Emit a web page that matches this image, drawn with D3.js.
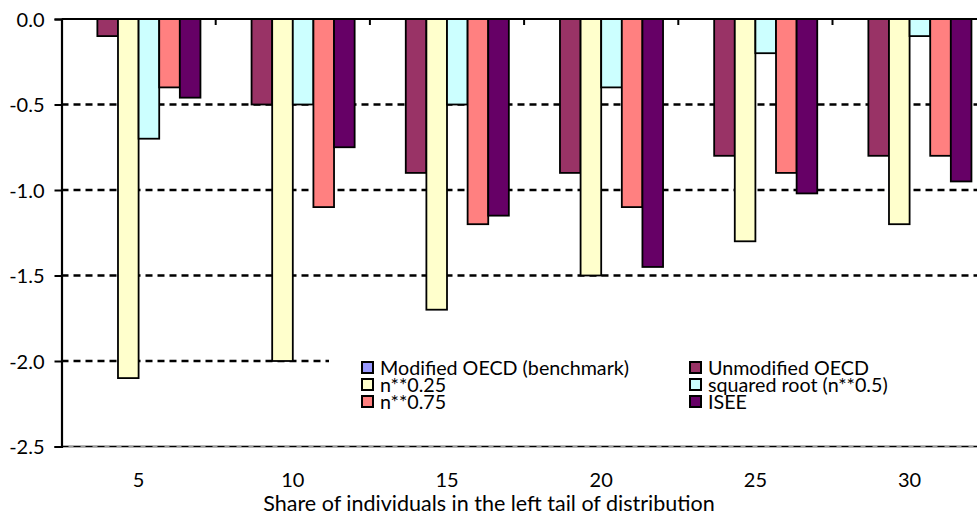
<!DOCTYPE html>
<html>
<head>
<meta charset="utf-8">
<script src="https://cdn.jsdelivr.net/npm/d3@7"></script>
<style>
  html, body { margin: 0; padding: 0; background: #fff; overflow: hidden; }
  svg { display: block; font-family: Lato, "Open Sans", sans-serif; }
</style>
</head>
<body>
<svg id="chart" width="977" height="518"></svg>
<script>
// Categories: share of individuals in the left tail (%)
const categories = ["5", "10", "15", "20", "25", "30"];

// Series names and colours
const seriesNames = [
  "Modified OECD (benchmark)",
  "Unmodified OECD",
  "n**0.25",
  "squared root (n**0.5)",
  "n**0.75",
  "ISEE"
];
const seriesColors = ["#9999FF", "#993366", "#FFFFCC", "#CCFFFF", "#FF8080", "#660066"];

// Values per series, one per category
const modifiedOECD   = [0, 0, 0, 0, 0, 0];
const unmodifiedOECD = [-0.1, -0.5, -0.9, -0.9, -0.8, -0.8];
const nPow025        = [-2.1, -2.0, -1.7, -1.5, -1.3, -1.2];
const squaredRoot    = [-0.7, -0.5, -0.5, -0.4, -0.2, -0.1];
const nPow075        = [-0.4, -1.1, -1.2, -1.1, -0.9, -0.8];
const isee           = [-0.46, -0.75, -1.15, -1.45, -1.02, -0.95];

// Y axis tick values
const yTicks = [0, -0.5, -1.0, -1.5, -2.0, -2.5];

const seriesValues = [modifiedOECD, unmodifiedOECD, nPow025, squaredRoot, nPow075, isee];

const svg = d3.select("#chart");

const plotLeft = 61.5, plotRight = 986.7, plotTop = 19, plotBottom = 446.5;

const x0 = d3.scaleBand().domain(categories).range([plotLeft, plotRight]).paddingInner(0).paddingOuter(0);
const x1 = d3.scaleBand().domain(d3.range(seriesNames.length)).range([0, x0.bandwidth()])
  .paddingInner(0).paddingOuter(0.74);
const y = d3.scaleLinear().domain([-2.5, 0]).range([plotBottom, plotTop]);

// Plot area bottom border
svg.append("line")
  .attr("x1", plotLeft).attr("x2", plotRight + 20)
  .attr("y1", y(-2.5)).attr("y2", y(-2.5))
  .attr("stroke", "#9a9a9a").attr("stroke-width", 2.5);

// Dashed horizontal gridlines
svg.append("g")
  .selectAll("line")
  .data(yTicks.filter(t => t !== 0))
  .join("line")
  .attr("x1", plotLeft).attr("x2", plotRight + 20)
  .attr("y1", d => y(d)).attr("y2", d => y(d))
  .attr("stroke", "#000")
  .attr("stroke-width", d => d === -2.5 ? 1.2 : 2.6)
  .attr("stroke-dasharray", "7,5");

// Legend background covers the gridlines behind it
const legendG = svg.append("g");
legendG.append("rect")
  .attr("x", 329).attr("y", 353).attr("width", 700).attr("height", 58)
  .attr("fill", "#fff");

// Bars
const barData = [];
categories.forEach((c, ci) => {
  seriesValues.forEach((vals, si) => {
    barData.push({ cat: c, s: si, v: vals[ci] });
  });
});

svg.append("g")
  .selectAll("rect")
  .data(barData.filter(d => d.v !== 0))
  .join("rect")
  .attr("x", d => x0(d.cat) + x1(d.s))
  .attr("width", x1.bandwidth())
  .attr("y", d => y(Math.max(0, d.v)))
  .attr("height", d => Math.abs(y(d.v) - y(0)))
  .attr("fill", d => seriesColors[d.s])
  .attr("stroke", "#000")
  .attr("stroke-width", 1.8);

// Category axis along the zero line (ticks inside, at band boundaries)
svg.append("line")
  .attr("x1", plotLeft).attr("x2", plotRight + 20)
  .attr("y1", y(0)).attr("y2", y(0))
  .attr("stroke", "#000").attr("stroke-width", 2);

svg.append("g")
  .selectAll("line")
  .data(categories.slice(1))
  .join("line")
  .attr("x1", d => x0(d)).attr("x2", d => x0(d))
  .attr("y1", y(0)).attr("y2", y(0) + 6)
  .attr("stroke", "#000").attr("stroke-width", 2);

// Category labels at the bottom of the plot
svg.append("g")
  .selectAll("text")
  .data(categories)
  .join("text")
  .attr("x", d => x0(d) + x0.bandwidth() / 2)
  .attr("y", 487)
  .attr("text-anchor", "middle")
  .attr("font-size", 20)
  .attr("fill", "#000")
  .text(d => d);

// Value axis
const yAxis = d3.axisLeft(y)
  .tickValues(yTicks)
  .tickFormat(d3.format(".1f"))
  .tickSize(7)
  .tickPadding(10);

const yg = svg.append("g")
  .attr("transform", `translate(${plotLeft},0)`)
  .call(yAxis);
yg.select(".domain").attr("stroke", "#000").attr("stroke-width", 2.2);
yg.selectAll(".tick line").attr("stroke", "#000").attr("stroke-width", 2);
yg.selectAll(".tick text")
  .attr("font-size", 20)
  .attr("font-family", "Lato, 'Open Sans', sans-serif")
  .attr("fill", "#000")
  .attr("dy", "0.35em")
  .text(d => d3.format(".1f")(d).replace("−", "-"));

// Axis title
svg.append("text")
  .attr("x", 489)
  .attr("y", 511)
  .attr("text-anchor", "middle")
  .attr("font-size", 21.5)
  .attr("fill", "#000")
  .text("Share of individuals in the left tail of distribution");

// Legend entries in two columns
const legendPos = [
  { x: 361, y: 361 }, { x: 689, y: 361 },
  { x: 361, y: 378 }, { x: 689, y: 378 },
  { x: 361, y: 395 }, { x: 689, y: 395 }
];
const items = legendG.selectAll("g.item")
  .data(seriesNames)
  .join("g")
  .attr("class", "item")
  .attr("transform", (d, i) => `translate(${legendPos[i].x},${legendPos[i].y})`);

items.append("rect")
  .attr("x", 1).attr("y", 1).attr("width", 11).attr("height", 11)
  .attr("fill", (d, i) => seriesColors[i])
  .attr("stroke", "#000").attr("stroke-width", 2);

items.append("text")
  .attr("x", 19)
  .attr("y", 7)
  .attr("dy", "0.35em")
  .attr("font-size", 19.7)
  .attr("fill", "#000")
  .text(d => d);
</script>
</body>
</html>
